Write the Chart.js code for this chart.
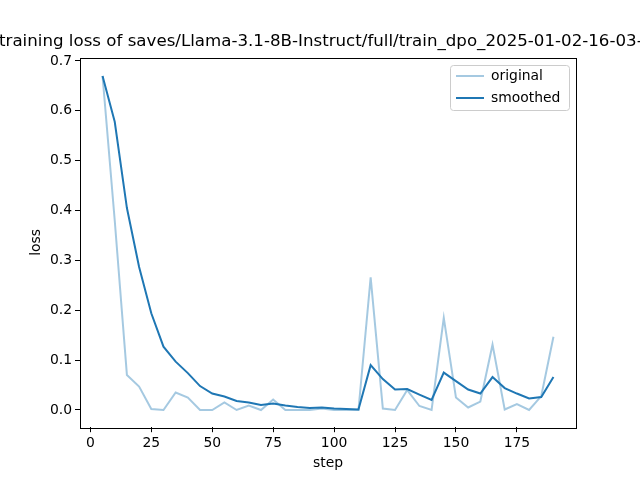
<!DOCTYPE html>
<html>
<head>
<meta charset="utf-8">
<script src="https://cdn.jsdelivr.net/npm/chart.js@4"></script>
<style>
  html, body { margin: 0; padding: 0; background: #fff; }
  canvas { display: block; }
</style>
</head>
<body>
<canvas id="myChart" width="640" height="480"></canvas>
<script>
const steps = [5, 10, 15, 20, 25, 30, 35, 40, 45, 50, 55, 60, 65, 70, 75, 80, 85, 90, 95,
    100, 105, 110, 115, 120, 125, 130, 135, 140, 145, 150, 155, 160, 165, 170, 175, 180, 185, 190];
const original = [0.670, 0.380, 0.070, 0.047, 0.002, 0.000, 0.035, 0.025, 0.000, 0.000,
    0.015, 0.000, 0.009, 0.000, 0.021, 0.000, 0.000, 0.000, 0.003, 0.000,
    0.000, 0.000, 0.266, 0.003, 0.000, 0.040, 0.008, 0.000, 0.185, 0.025,
    0.005, 0.017, 0.131, 0.001, 0.012, 0.000, 0.028, 0.147];
const smoothed = [0.670, 0.578, 0.405, 0.287, 0.194, 0.127, 0.097, 0.074, 0.048, 0.033,
    0.027, 0.018, 0.015, 0.010, 0.013, 0.009, 0.006, 0.004, 0.005, 0.003,
    0.002, 0.001, 0.090, 0.062, 0.041, 0.042, 0.031, 0.020, 0.075, 0.058,
    0.041, 0.033, 0.066, 0.044, 0.033, 0.023, 0.026, 0.066];
const xTicks = [0, 25, 50, 75, 100, 125, 150, 175];
const yTicks = [0.0, 0.1, 0.2, 0.3, 0.4, 0.5, 0.6, 0.7];
const titleText = "training loss of saves/Llama-3.1-8B-Instruct/full/train_dpo_2025-01-02-16-03-";

const FONT = "'DejaVu Sans', sans-serif";
const blue = "#1f77b4";
const lightBlue = "rgba(31,119,180,0.4)";

function toPoints(xs, ys) {
    let pts = [];
    for (let i = 0; i < xs.length; i++) {
        pts.push({ x: xs[i], y: ys[i] });
    }
    return pts;
}

// frame, title and legend drawn like matplotlib
const decorations = {
    id: "decorations",
    afterDraw(chart) {
        const ctx = chart.ctx;
        const a = chart.chartArea;
        ctx.save();
        ctx.strokeStyle = "#000";
        ctx.lineWidth = 1;
        ctx.strokeRect(Math.round(a.left) + 0.5, Math.round(a.top) + 0.5,
            Math.round(a.right - a.left), Math.round(a.bottom - a.top));

        ctx.fillStyle = "#000";
        ctx.font = "16.67px " + FONT;
        ctx.textAlign = "left";
        ctx.textBaseline = "alphabetic";
        ctx.fillText(titleText, -1, 46);

        // legend
        const lx = 450.5, ly = 65.5, lw = 119, lh = 45, r = 3;
        ctx.beginPath();
        ctx.moveTo(lx + r, ly);
        ctx.arcTo(lx + lw, ly, lx + lw, ly + lh, r);
        ctx.arcTo(lx + lw, ly + lh, lx, ly + lh, r);
        ctx.arcTo(lx, ly + lh, lx, ly, r);
        ctx.arcTo(lx, ly, lx + lw, ly, r);
        ctx.closePath();
        ctx.fillStyle = "rgba(255,255,255,0.8)";
        ctx.fill();
        ctx.strokeStyle = "#cccccc";
        ctx.stroke();

        const items = [["original", lightBlue, 76], ["smoothed", blue, 98]];
        ctx.font = "13.9px " + FONT;
        ctx.textBaseline = "middle";
        items.forEach(it => {
            ctx.strokeStyle = it[1];
            ctx.lineWidth = 2;
            ctx.beginPath();
            ctx.moveTo(456, it[2]);
            ctx.lineTo(484, it[2]);
            ctx.stroke();
            ctx.fillStyle = "#000";
            ctx.fillText(it[0], 491, it[2]);
        });
        ctx.restore();
    }
};

const ctx = document.getElementById("myChart").getContext("2d");

const chart = new Chart(ctx, {
    type: "line",
    data: {
        datasets: [{
            label: "original",
            data: toPoints(steps, original),
            borderColor: lightBlue,
            backgroundColor: lightBlue,
            borderWidth: 2,
            pointRadius: 0,
            tension: 0
        }, {
            label: "smoothed",
            data: toPoints(steps, smoothed),
            borderColor: blue,
            backgroundColor: blue,
            borderWidth: 2,
            pointRadius: 0,
            tension: 0
        }]
    },
    options: {
        responsive: false,
        animation: false,
        devicePixelRatio: 1,
        layout: { padding: { left: 0, right: 64, top: 57.6, bottom: 0 } },
        plugins: {
            legend: { display: false },
            title: { display: false },
            tooltip: { enabled: false }
        },
        scales: {
            x: {
                type: "linear",
                min: -4.25,
                max: 199.25,
                afterFit: s => { s.height = 52.8; },
                afterBuildTicks: s => { s.ticks = xTicks.map(v => ({ value: v })); },
                grid: { drawOnChartArea: false, drawTicks: true, tickLength: 5, color: "#000", tickWidth: 1 },
                border: { display: false },
                ticks: {
                    color: "#000",
                    padding: 3,
                    maxRotation: 0,
                    font: { family: FONT, size: 13.9 },
                    callback: v => String(v)
                },
                title: {
                    display: true,
                    text: "step",
                    color: "#000",
                    font: { family: FONT, size: 13.9 },
                    padding: { top: 0, bottom: 8 }
                }
            },
            y: {
                type: "linear",
                min: -0.0345,
                max: 0.7068,
                afterFit: s => { s.width = 80; },
                afterBuildTicks: s => { s.ticks = yTicks.map(v => ({ value: v })); },
                grid: { drawOnChartArea: false, drawTicks: true, tickLength: 5, color: "#000", tickWidth: 1 },
                border: { display: false },
                ticks: {
                    color: "#000",
                    padding: 3,
                    font: { family: FONT, size: 13.9 },
                    callback: v => v.toFixed(1)
                },
                title: {
                    display: true,
                    text: "loss",
                    color: "#000",
                    font: { family: FONT, size: 13.9 },
                    padding: { top: 28, bottom: 0 }
                }
            }
        }
    },
    plugins: [decorations]
});
</script>
</body>
</html>
